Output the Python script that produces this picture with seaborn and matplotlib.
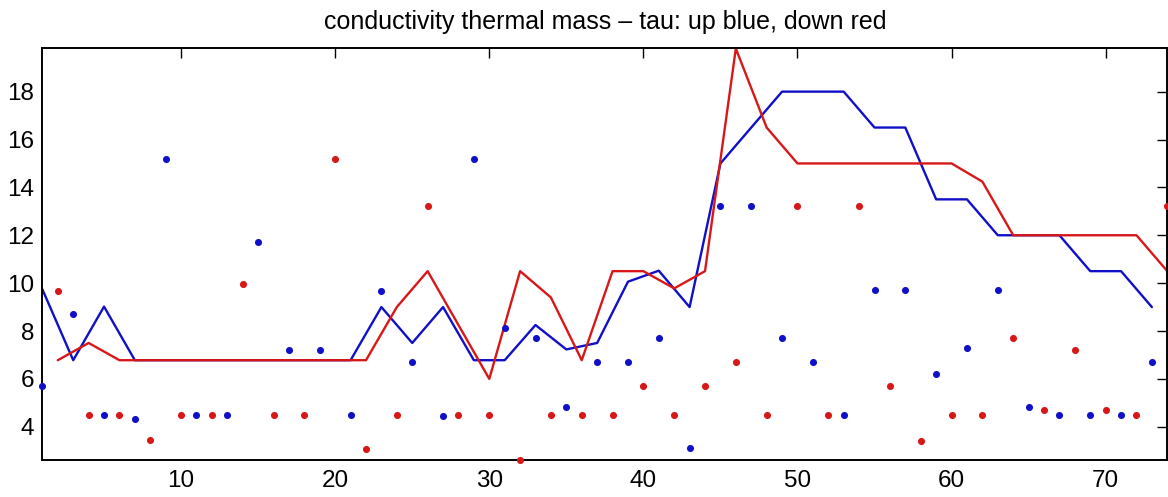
import matplotlib
matplotlib.use("Agg")
import matplotlib.pyplot as plt
import seaborn as sns

# =====================================
# Data
# =====================================

x_up = list(range(1, 75, 2))      # sample index, odd
x_down = list(range(2, 75, 2))    # sample index, even

up_dots = [5.70, 8.71, 4.5, 4.31, 15.2, 4.5, 4.5, 11.71, 7.21, 7.21,
           4.5, 9.69, 6.72, 4.46, 15.2, 8.11, 7.72, 4.82, 6.72, 6.72,
           7.72, 3.12, 13.22, 13.22, 7.72, 6.72, 4.5, 9.7, 9.7, 6.2,
           7.3, 9.7, 4.81, 4.5, 4.5, 4.5, 6.72]

down_dots = [9.69, 4.5, 4.5, 3.44, 4.5, 4.5, 9.96, 4.5, 4.5, 15.2,
             3.06, 4.5, 13.22, 4.5, 4.5, 2.61, 4.5, 4.5, 4.5, 5.7,
             4.5, 5.7, 6.72, 4.5, 13.22, 4.5, 13.22, 5.7, 3.4, 4.5,
             4.5, 7.72, 4.7, 7.21, 4.7, 4.5, 13.22]

up_line = [9.74, 6.78, 9.02, 6.78, 6.78, 6.78, 6.78, 6.78, 6.78, 6.78,
           6.78, 9.0, 7.5, 9.0, 6.78, 6.78, 8.25, 7.23, 7.5, 10.06,
           10.52, 9.0, 15.0, 16.5, 18.0, 18.0, 18.0, 16.5, 16.5, 13.5,
           13.5, 12.0, 12.0, 12.0, 10.5, 10.5, 9.0]

down_line = [6.78, 7.5, 6.78, 6.78, 6.78, 6.78, 6.78, 6.78, 6.78, 6.78,
             6.78, 9.0, 10.5, 8.25, 6.0, 10.5, 9.4, 6.78, 10.5, 10.5,
             9.78, 10.5, 19.8, 16.5, 15.0, 15.0, 15.0, 15.0, 15.0, 15.0,
             14.24, 12.0, 12.0, 12.0, 12.0, 12.0, 10.5]

blue = "#1010c8"
red = "#d81818"

# =====================================
# Plot
# =====================================

sns.set_style("white")
plt.rcParams["font.family"] = ["Liberation Sans", "DejaVu Sans"]
plt.rcParams["text.color"] = "black"

fig = plt.figure(figsize=(11.68, 4.97), dpi=100)
ax = fig.add_axes([0.0363, 0.0744, 0.9631, 0.8284])

sns.lineplot(x=x_up, y=up_line, color=blue, linewidth=1.7,
             sort=False, estimator=None, ax=ax)
sns.lineplot(x=x_down, y=down_line, color=red, linewidth=1.7,
             sort=False, estimator=None, ax=ax)

sns.scatterplot(x=x_up, y=up_dots, color=blue, s=26, linewidth=0,
                clip_on=False, ax=ax, zorder=3)
sns.scatterplot(x=x_down, y=down_dots, color=red, s=26, linewidth=0,
                clip_on=False, ax=ax, zorder=3)

ax.set_xlim(1, 74)
ax.set_ylim(2.61, 19.81)
ax.set_xticks([10, 20, 30, 40, 50, 60, 70])
ax.set_yticks([4, 6, 8, 10, 12, 14, 16, 18])

ax.tick_params(direction="in", top=True, right=True, length=7.5,
               width=1.0, labelsize=17.5, colors="black")
ax.tick_params(axis="y", pad=6)
ax.tick_params(axis="x", pad=7)

for side in ax.spines.values():
    side.set_linewidth(1.4)
    side.set_color("black")

ax.set_title("conductivity thermal mass \u2013 tau: up blue, down red",
             fontsize=18, pad=14, color="black")

plt.savefig("out.png", dpi=100)
plt.close()
